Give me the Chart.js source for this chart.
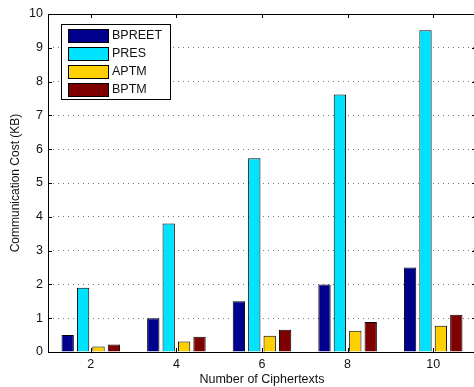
<!DOCTYPE html>
<html>
<head>
<meta charset="utf-8">
<script src="https://cdn.jsdelivr.net/npm/chart.js@4.4.0/dist/chart.umd.min.js"></script>
<style>
    html, body { margin: 0; padding: 0; background: #ffffff; overflow: hidden; }
    #wrap { width: 474px; height: 387px; overflow: hidden; }
</style>
</head>
<body>
<div id="wrap"><canvas id="grafico" width="480" height="387"></canvas></div>
<script>
// dados
var categorias = ['2', '4', '6', '8', '10'];
var nomesSeries = ['BPREET', 'PRES', 'APTM', 'BPTM'];
var bpreet = [0.5, 1.0, 1.5, 2.0, 2.5];
var pres = [1.9, 3.8, 5.73, 7.62, 9.52];
var aptm = [0.16, 0.31, 0.48, 0.63, 0.78];
var bptm = [0.22, 0.45, 0.66, 0.89, 1.1];
var ticksY = [0, 1, 2, 3, 4, 5, 6, 7, 8, 9, 10];

var cores = ['#00008f', '#00e3ff', '#ffd000', '#7f0000'];
var fonte = '"Liberation Sans", Arial, sans-serif';

// caixa da legenda e ticks internos (estilo matlab)
var pluginMatlab = {
    id: 'matlab',
    afterDraw: function (chart) {
        var ctx = chart.ctx;
        var area = chart.chartArea;
        var sx = chart.scales.x;
        var sy = chart.scales.y;
        ctx.save();
        ctx.strokeStyle = '#000000';
        ctx.lineWidth = 1;

        // moldura
        ctx.strokeRect(Math.round(area.left) + 0.5, Math.round(area.top) + 0.5,
            Math.round(area.right - area.left), Math.round(area.bottom - area.top));

        // ticks do eixo y (esquerda e direita)
        ticksY.forEach(function (v) {
            var y = Math.round(sy.getPixelForValue(v)) + 0.5;
            ctx.beginPath();
            ctx.moveTo(area.left, y);
            ctx.lineTo(area.left + 4, y);
            ctx.moveTo(area.right, y);
            ctx.lineTo(area.right - 4, y);
            ctx.stroke();
        });

        // ticks do eixo x (topo e base)
        categorias.forEach(function (c, i) {
            var x = Math.round(sx.getPixelForValue(i)) + 0.5;
            ctx.beginPath();
            ctx.moveTo(x, area.top);
            ctx.lineTo(x, area.top + 4);
            ctx.moveTo(x, area.bottom);
            ctx.lineTo(x, area.bottom - 4);
            ctx.stroke();
        });

        // legenda
        var lx = 61, ly = 24, lw = 109, lh = 75;
        ctx.fillStyle = '#ffffff';
        ctx.fillRect(lx, ly, lw, lh);
        ctx.strokeRect(lx + 0.5, ly + 0.5, lw, lh);
        ctx.font = '12.5px ' + fonte;
        ctx.textBaseline = 'middle';
        ctx.textAlign = 'left';
        chart.data.datasets.forEach(function (ds, i) {
            var cy = ly + 11 + i * 18;
            ctx.fillStyle = ds.backgroundColor;
            ctx.fillRect(68, cy - 6, 40, 13);
            ctx.strokeRect(68.5, cy - 5.5, 40, 13);
            ctx.fillStyle = '#111111';
            ctx.fillText(ds.label, 112, cy + 1);
        });
        ctx.restore();
    }
};

function montarDatasets() {
    var valores = [bpreet, pres, aptm, bptm];
    return valores.map(function (v, i) {
        return {
            label: nomesSeries[i],
            data: v,
            backgroundColor: cores[i],
            borderColor: '#000000',
            borderWidth: 1,
            categoryPercentage: 0.72,
            barPercentage: 0.8
        };
    });
}

var ctx = document.getElementById('grafico').getContext('2d');
window.grafico = new Chart(ctx, {
    type: 'bar',
    data: {
        labels: categorias,
        datasets: montarDatasets()
    },
    plugins: [pluginMatlab],
    options: {
        responsive: false,
        animation: false,
        layout: {
            padding: { top: 14, right: 4, left: 0, bottom: 0 }
        },
        plugins: {
            legend: { display: false },
            tooltip: { enabled: false }
        },
        scales: {
            x: {
                grid: { display: false, drawTicks: false },
                border: { display: false },
                ticks: {
                    color: '#111111',
                    font: { family: fonte, size: 12.5 },
                    padding: 5,
                    maxRotation: 0
                },
                title: {
                    display: true,
                    text: 'Number of Ciphertexts',
                    color: '#111111',
                    font: { family: fonte, size: 12.5 },
                    padding: { top: 0, bottom: 0 }
                },
                afterFit: function (scale) {
                    scale.height = 35;
                }
            },
            y: {
                min: 0,
                max: 10,
                afterBuildTicks: function (scale) {
                    scale.ticks = ticksY.map(function (v) { return { value: v }; });
                },
                grid: {
                    color: '#777777',
                    lineWidth: 1,
                    drawTicks: false
                },
                // grade pontilhada
                border: { display: false, dash: [1, 4] },
                ticks: {
                    color: '#111111',
                    font: { family: fonte, size: 12.5 },
                    padding: 5
                },
                title: {
                    display: true,
                    text: 'Communication Cost (KB)',
                    color: '#111111',
                    font: { family: fonte, size: 12 },
                    padding: { top: 8, bottom: 0 }
                },
                afterFit: function (scale) {
                    scale.width = 48;
                }
            }
        }
    }
});
</script>
</body>
</html>
